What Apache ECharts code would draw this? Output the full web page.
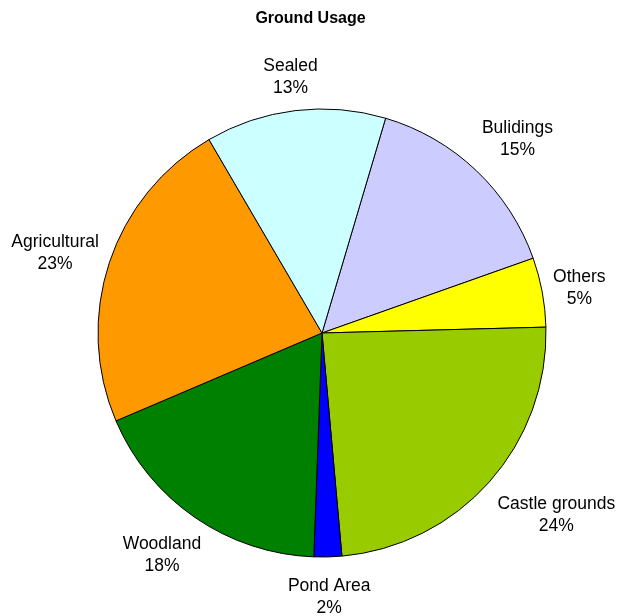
<!DOCTYPE html>
<html>
<head>
<meta charset="utf-8">
<script src="https://cdn.jsdelivr.net/npm/echarts@6/dist/echarts.min.js"></script>
<style>
  html, body { margin: 0; padding: 0; background: #fff; }
  #chart { width: 621px; height: 616px; }
</style>
</head>
<body>
<div id="chart"></div>
<script>
// Land use shares (percent), listed clockwise
const categories = ['Bulidings', 'Others', 'Castle grounds', 'Pond Area', 'Woodland', 'Agricultural', 'Sealed'];
const shares = [15, 5, 24, 2, 18, 23, 13];
const sliceColors = ['#CCCCFF', '#FFFF00', '#99CC00', '#0000FF', '#008000', '#FF9900', '#CCFFFF'];

const CX = 322, CY = 333, R = 224;
const START_ANGLE = 73.5;   // degrees, counter-clockwise from 3 o'clock
const LABEL_GAP = 11;
const LABEL_PAD_Y = 4;
const LABEL_SHIFT_Y = 3;
const FONT = '"Liberation Sans", Arial, sans-serif';

const total = shares.reduce((a, b) => a + b, 0);

// Place each label just outside its slice, pushed away from the pie by its own box size
function placeLabel(params) {
  const i = params.dataIndex;
  let before = 0;
  for (let k = 0; k < i; k++) before += shares[k];
  const mid = (START_ANGLE - (before + shares[i] / 2) / total * 360) * Math.PI / 180;
  const dx = Math.cos(mid), dy = -Math.sin(mid);
  const m = Math.max(Math.abs(dx), Math.abs(dy));
  const w = params.labelRect.width, h = params.labelRect.height;
  const ax = CX + (R + LABEL_GAP) * dx;
  const ay = CY + (R + LABEL_GAP) * dy;
  return {
    x: ax + (dx / m) * w / 2,
    y: ay + (dy / m) * (h / 2 + LABEL_PAD_Y) + LABEL_SHIFT_Y,
    align: 'center',
    verticalAlign: 'middle'
  };
}

const chart = echarts.init(document.getElementById('chart'), null, { renderer: 'canvas' });
chart.setOption({
  animation: false,
  backgroundColor: '#ffffff',
  title: {
    text: 'Ground Usage',
    left: 'center',
    top: 6,
    textStyle: { fontFamily: FONT, fontSize: 16, fontWeight: 'bold', color: '#000' }
  },
  series: [{
    type: 'pie',
    center: [CX, CY],
    radius: [0, R],
    startAngle: START_ANGLE,
    clockwise: true,
    avoidLabelOverlap: false,
    emphasis: { disabled: true },
    itemStyle: { borderColor: '#000', borderWidth: 1 },
    label: {
      show: true,
      position: 'outside',
      formatter: '{b}\n{d}%',
      fontFamily: FONT,
      fontSize: 17.5,
      lineHeight: 22,
      color: '#000'
    },
    labelLine: { show: false },
    labelLayout: placeLabel,
    data: categories.map((name, i) => ({
      name: name,
      value: shares[i],
      itemStyle: { color: sliceColors[i] }
    }))
  }]
});
</script>
</body>
</html>
